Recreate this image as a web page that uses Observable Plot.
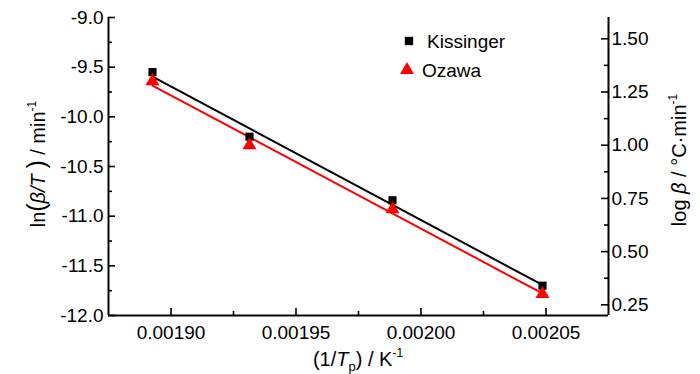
<!DOCTYPE html>
<html><head><meta charset="utf-8">
<script src="https://cdn.jsdelivr.net/npm/d3@7"></script>
<script src="https://cdn.jsdelivr.net/npm/@observablehq/plot@0.6"></script>
<style>
body{margin:0;background:#fff;}
#wrap{position:relative;width:700px;height:374px;}
</style></head><body><div id="wrap"></div>
<script>
// ---- data ----
const invT = [0.0018926, 0.0019314, 0.0019886, 0.0020486];   // 1/Tp, K^-1
const kissinger = [-9.55, -10.20, -10.84, -11.70];            // ln(beta/T^2)
const ozawa = [1.301, 1.000, 0.699, 0.301];                  // log beta
const seriesNames = ["Kissinger", "Ozawa"];
const xTicks = [0.00190, 0.00195, 0.00200, 0.00205];
const xMinor = [0.001925, 0.001975, 0.002025];
const leftTicks = [-12, -11.5, -11, -10.5, -10, -9.5, -9];
const leftMinor = [-11.75, -11.25, -10.75, -10.25, -9.75, -9.25];
const rightTicks = [0.25, 0.50, 0.75, 1.00, 1.25, 1.50];
const rightMinor = [0.375, 0.625, 0.875, 1.125, 1.375];
const xDomain = [0.001875, 0.002075];
const leftDomain = [-12, -9];
const rightDomain = [0.2, 1.6];

// ---- helpers ----
const toLeft = v => leftDomain[0] + (v - rightDomain[0]) / (rightDomain[1] - rightDomain[0]) * (leftDomain[1] - leftDomain[0]);
const fromLeft = v => rightDomain[0] + (v - leftDomain[0]) / (leftDomain[1] - leftDomain[0]) * (rightDomain[1] - rightDomain[0]);

const W = 700, H = 374, mL = 108, mR = 92, mT = 17, mB = 59;
const pw = W - mL - mR, ph = H - mT - mB;
const FONT = '"Liberation Sans", Arial, sans-serif';

const kData = invT.map((x, i) => ({x, y: kissinger[i]}));
const oData = invT.map((x, i) => ({x, y: toLeft(ozawa[i])}));

const chart = Plot.plot({
  width: W, height: H,
  marginLeft: mL, marginRight: mR, marginTop: mT, marginBottom: mB,
  style: {fontFamily: FONT, fontSize: "19px", color: "#000", background: "#fff"},
  x: {domain: xDomain, label: null},
  y: {domain: leftDomain, label: null},
  marks: [
    // tick labels
    Plot.axisX(xTicks, {tickSize: 0, tickPadding: 10, tickFormat: d => d.toFixed(5), fontSize: 19}),
    Plot.axisY(leftTicks, {anchor: "left", tickSize: 0, tickPadding: 5, tickFormat: d => d.toFixed(1), fontSize: 19}),
    Plot.axisY(rightTicks.map(toLeft), {anchor: "right", tickSize: 0, tickPadding: 3, tickFormat: d => fromLeft(d).toFixed(2), fontSize: 19}),
    // inward tick marks
    Plot.tickX(xTicks, {x: d => d, insetTop: ph - 7, strokeWidth: 1.6}),
    Plot.tickX(xMinor, {x: d => d, insetTop: ph - 4, strokeWidth: 1.6}),
    Plot.tickY(leftTicks, {y: d => d, insetRight: pw - 7, strokeWidth: 1.6}),
    Plot.tickY(leftMinor, {y: d => d, insetRight: pw - 4, strokeWidth: 1.6}),
    Plot.tickY(rightTicks.map(toLeft), {y: d => d, insetLeft: pw - 7, strokeWidth: 1.6}),
    Plot.tickY(rightMinor.map(toLeft), {y: d => d, insetLeft: pw - 4, strokeWidth: 1.6}),
    // axis lines (no top border)
    Plot.ruleX([xDomain[0]], {y1: leftDomain[0], y2: leftDomain[1], strokeWidth: 2}),
    Plot.ruleX([xDomain[1]], {y1: leftDomain[0], y2: leftDomain[1], strokeWidth: 2}),
    Plot.ruleY([leftDomain[0]], {x1: xDomain[0], x2: xDomain[1], strokeWidth: 2}),
    // fit lines
    Plot.linearRegressionY(kData, {x: "x", y: "y", stroke: "#000", strokeWidth: 2, ci: 0}),
    Plot.linearRegressionY(oData, {x: "x", y: "y", stroke: "#ff0000", strokeWidth: 2, ci: 0}),
    // points
    Plot.dot(kData, {x: "x", y: "y", symbol: "square", r: 4.6, fill: "#000", stroke: null}),
    Plot.dot(oData, {x: "x", y: "y", symbol: "triangle", r: 5.2, fill: "#ff0000", stroke: null})
  ]
});

document.getElementById("wrap").appendChild(chart);
const svg = d3.select(chart);

// ---- axis titles ----
function addTitle(x, y, rot, parts) {
  const t = svg.append("text")
    .attr("transform", `translate(${x},${y}) rotate(${rot})`)
    .attr("text-anchor", "middle")
    .style("font-family", FONT).style("font-size", "20px").attr("fill", "#000");
  parts.forEach(p => {
    const s = t.append("tspan").text(p.t);
    if (p.it) s.style("font-style", "italic");
    if (p.fs) s.style("font-size", p.fs + "px");
    if (p.dy) s.attr("dy", p.dy);
  });
}
addTitle(45, 164, -90, [
  {t: "ln"}, {t: "(", fs: 25}, {t: "β/T", it: true}, {t: " "}, {t: ")", fs: 25}, {t: " / min"},
  {t: "-1", fs: 12, dy: -9}
]);
addTitle(686, 160, -90, [
  {t: "log "}, {t: "β", it: true}, {t: " / °C·min"}, {t: "-1", fs: 12, dy: -9}
]);
addTitle(358, 366, 0, [
  {t: "(1/"}, {t: "T", it: true}, {t: "p", fs: 13, dy: 5}, {t: ")", dy: -5}, {t: " / K"}, {t: "-1", fs: 12, dy: -9}
]);

// ---- legend ----
const leg = svg.append("g").style("font-family", FONT).style("font-size", "19px").attr("text-anchor", "start");
const legItems = [
  {name: seriesNames[0], sym: d3.symbolSquare, size: 70, color: "#000", x: 409, y: 41, tx: 427},
  {name: seriesNames[1], sym: d3.symbolTriangle, size: 85, color: "#ff0000", x: 407, y: 70, tx: 422}
];
legItems.forEach(it => {
  leg.append("path").attr("d", d3.symbol(it.sym, it.size)()).attr("transform", `translate(${it.x},${it.y})`).attr("fill", it.color);
  leg.append("text").attr("x", it.tx).attr("y", it.y).attr("dy", "0.35em").attr("text-anchor", "start").attr("fill", "#000").text(it.name);
});
</script></body></html>
